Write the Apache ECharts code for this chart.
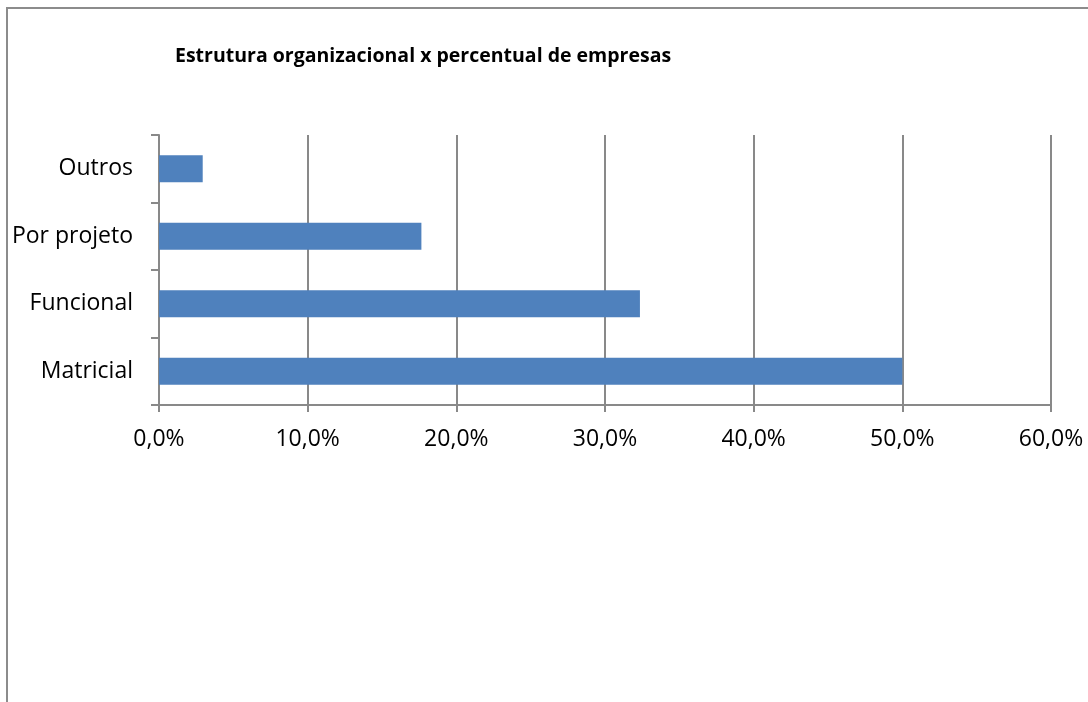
<!DOCTYPE html>
<html>
<head>
<meta charset="utf-8">
<script src="https://cdn.jsdelivr.net/npm/echarts@6/dist/echarts.min.js"></script>
<style>
  html, body { margin: 0; padding: 0; background: #fff; }
  #chart { width: 1088px; height: 702px; }
</style>
</head>
<body>
<div id="chart"></div>
<script>
// Organizational structure vs share of companies
const chartTitle = 'Estrutura organizacional x percentual de empresas';
const categories = ['Matricial', 'Funcional', 'Por projeto', 'Outros'];
const shares = [50.0, 32.35, 17.65, 2.94];
const tickValues = [0, 10, 20, 30, 40, 50, 60];

const FONT = '"Open Sans", Lato, sans-serif';
const GRID_COLOR = '#898989';

const chart = echarts.init(document.getElementById('chart'), null, { renderer: 'canvas' });

chart.setOption({
  animation: false,
  backgroundColor: '#ffffff',
  title: {
    text: chartTitle,
    left: 170,
    top: 41,
    textStyle: { fontFamily: FONT, fontSize: 19.5, fontWeight: 'bold', color: '#000' }
  },
  graphic: [
    // outer frame of the chart area (left and top edges)
    { type: 'line', shape: { x1: 7, y1: 8, x2: 7, y2: 702 }, style: { stroke: '#8c8c8c', lineWidth: 2 } },
    { type: 'line', shape: { x1: 6, y1: 8, x2: 1088, y2: 8 }, style: { stroke: '#8c8c8c', lineWidth: 2 } }
  ],
  grid: { left: 159, right: 37, top: 135, bottom: 297, containLabel: false },
  xAxis: {
    type: 'value',
    min: tickValues[0],
    max: tickValues[tickValues.length - 1],
    interval: 10,
    axisLine: { show: true, lineStyle: { color: GRID_COLOR, width: 2 } },
    axisTick: { show: true, length: 7, lineStyle: { color: GRID_COLOR, width: 2 } },
    splitLine: { show: true, lineStyle: { color: GRID_COLOR, width: 2 } },
    axisLabel: {
      margin: 23,
      fontFamily: FONT, fontSize: 23, color: '#000',
      formatter: v => v.toFixed(1).replace('.', ',') + '%'
    }
  },
  yAxis: {
    type: 'category',
    data: categories,
    axisLine: { show: true, lineStyle: { color: GRID_COLOR, width: 2 } },
    axisTick: { show: true, length: 8, alignWithLabel: false, lineStyle: { color: GRID_COLOR, width: 2 } },
    splitLine: { show: false },
    axisLabel: { margin: 26, fontFamily: FONT, fontSize: 23, color: '#000', padding: [4, 0, 0, 0] }
  },
  series: [{
    type: 'bar',
    data: shares,
    barWidth: 27,
    itemStyle: { color: '#4f81bd' },
    silent: true
  }]
});
</script>
</body>
</html>
